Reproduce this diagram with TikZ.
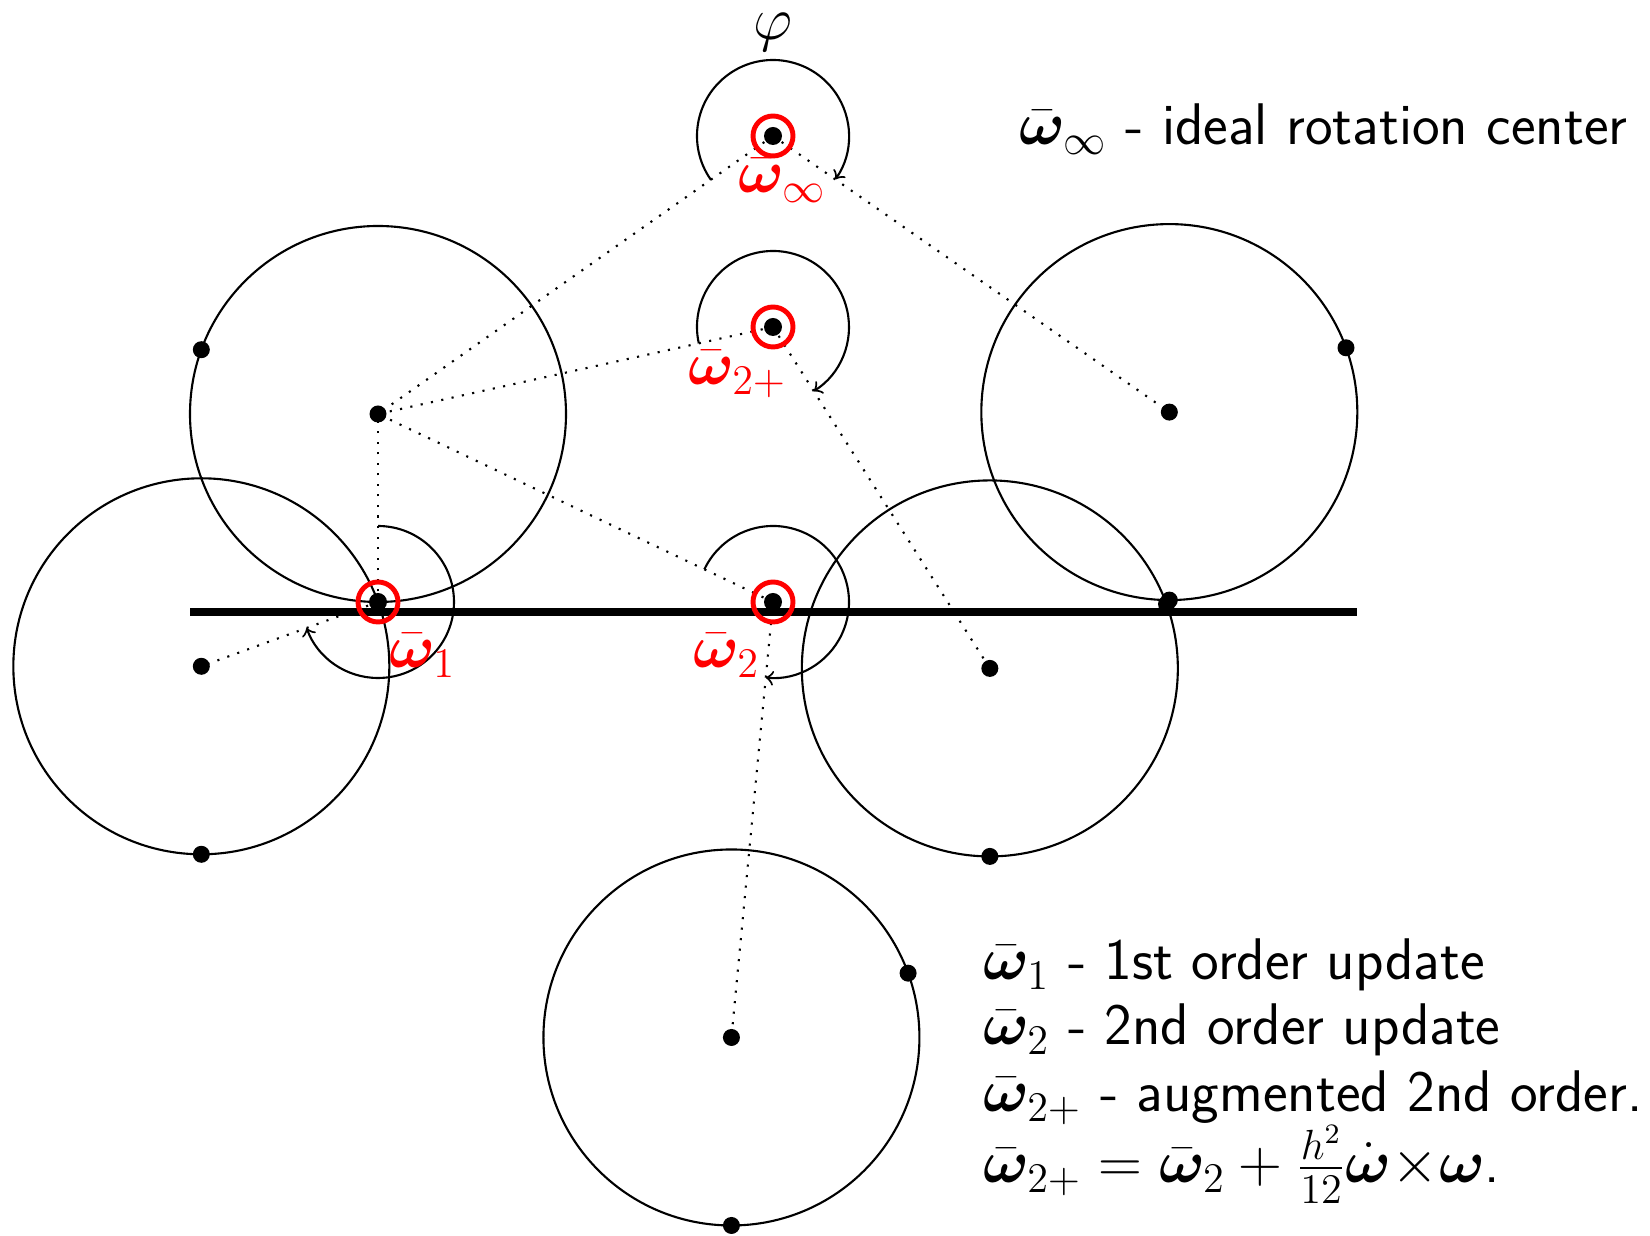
\documentclass[tikz,border=0pt]{standalone}
\usepackage{amsmath,bm}
\usetikzlibrary{calc}
\begin{document}
\begin{tikzpicture}[x=0.01cm,y=0.01cm,
  body/.style={line width=0.6pt},
  link/.style={line width=0.6pt, dash pattern=on 0.6pt off 2.4pt},
  rotarc/.style={line width=0.6pt,->},
  ring/.style={draw=red,line width=1.4pt},
  lbl/.style={text=red,inner sep=0pt,anchor=base west,font=\fontsize{16.7}{20}\selectfont},
  txt/.style={inner sep=0pt,anchor=base west,font=\fontsize{16.7}{20}\selectfont\sffamily}]
\useasboundingbox (0,0) rectangle (1650,1236);
\def\R{188}
\def\dotr{8.5}
% original body and rotation centres
\coordinate (C0) at (378,822);
\coordinate (w1) at (378,634);
\coordinate (w2) at (773,634);
\coordinate (wp) at (773,909);
\coordinate (wi) at (773,1100);
\coordinate (P0) at ($(C0)+(160:\R)$);
\coordinate (Q0) at (w1);
% rotated bodies (rotation by -250 degrees)
\coordinate (CA) at ($(wi)!1!-250:(C0)$);
\coordinate (PA) at ($(wi)!1!-250:(P0)$);
\coordinate (QA) at ($(wi)!1!-250:(Q0)$);
\coordinate (CB) at ($(wp)!1!-250:(C0)$);
\coordinate (PB) at ($(wp)!1!-250:(P0)$);
\coordinate (QB) at ($(wp)!1!-250:(Q0)$);
\coordinate (CC) at ($(w1)!1!-250:(C0)$);
\coordinate (PC) at ($(w1)!1!-250:(P0)$);
\coordinate (CD) at ($(w2)!1!-250:(C0)$);
\coordinate (PD) at ($(w2)!1!-250:(P0)$);
\coordinate (QD) at ($(w2)!1!-250:(Q0)$);
% circles
\foreach \c in {C0,CA,CB,CC,CD} \draw[body] (\c) circle[radius=\R];
% thick line
\coordinate (L1) at ($(C0)+(-\R,-198)$);
\coordinate (L2) at ($(CA)+(\R,0)$);
\draw[line width=2pt] (L1) -- (L1 -| L2);
% dotted links
\draw[link] (wi) -- (C0);
\draw[link] (wi) -- (CA);
\draw[link] (wp) -- (C0);
\draw[link] (wp) -- (CB);
\draw[link] (w1) -- (C0);
\draw[link] (w1) -- (CC);
\draw[link] (w2) -- (C0);
\draw[link] (w2) -- (CD);
% rotation arcs
\draw[rotarc] ($(wi)+(215.33:76)$) arc[start angle=215.33, delta angle=-250, radius=76];
\draw[rotarc] ($(wp)+(192.42:76)$) arc[start angle=192.42, delta angle=-250, radius=76];
\draw[rotarc] ($(w1)+(90:76)$) arc[start angle=90, delta angle=-250, radius=76];
\draw[rotarc] ($(w2)+(154.55:76)$) arc[start angle=154.55, delta angle=-250, radius=76];
% body points
\foreach \p in {C0,P0,CA,PA,QA,CB,PB,QB,CC,PC,CD,PD,QD} \fill (\p) circle[radius=\dotr];
% rotation centres
\foreach \w in {w1,w2,wp,wi} {
  \fill (\w) circle[radius=9];
  \draw[ring] (\w) circle[radius=20];
}
% labels
\node[font=\fontsize{16.7}{20}\selectfont,inner sep=0pt,anchor=base] (phi) at (773,1196) {$\varphi$};
\node[lbl] (lwi) at (738,1043) {$\bar{\bm\omega}_\infty$};
\node[lbl] (lwp) at (688,851) {$\bar{\bm\omega}_{2+}$};
\node[lbl] (lw1) at (389,568) {$\bar{\bm\omega}_1$};
\node[lbl] (lw2) at (693,568) {$\bar{\bm\omega}_2$};
% legend
\node[txt] (tinf) at (1019,1091) {$\bar{\bm\omega}_\infty$ - ideal rotation center};
\node[txt] (t1) at (983,256) {$\bar{\bm\omega}_1$ - 1st order update};
\node[txt] (t2) at (983,191) {$\bar{\bm\omega}_2$ - 2nd order update};
\node[txt] (t3) at (983,124) {$\bar{\bm\omega}_{2+}$ - augmented 2nd order.};
\node[txt] (t4) at (983,53) {$\bar{\bm\omega}_{2+}=\bar{\bm\omega}_2+\frac{h^2}{12}\dot{\bm\omega}{\times}\bm\omega$.};
\end{tikzpicture}
\end{document}
